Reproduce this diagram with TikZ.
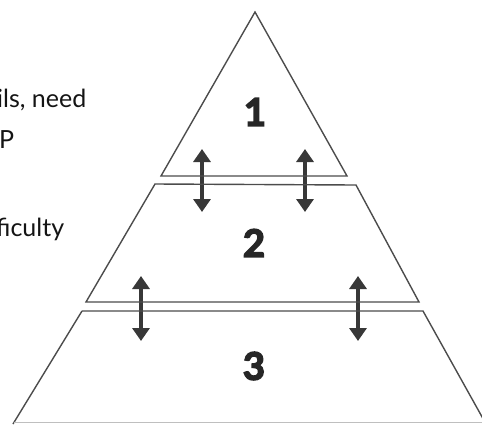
\documentclass[tikz,border=0pt]{standalone}
\usepackage{fontspec}
\setmainfont{Lato}
\newfontfamily\numfont{Lato}[BoldFeatures={FakeBold=4}]
\usetikzlibrary{arrows.meta}
\tikzset{
  tier/.style={draw=black!70, line width=1.4pt, line join=miter},
  dblarrow/.style={draw=black!78, line width=4.2pt, {Triangle[width=17pt,length=13pt]}-{Triangle[width=17pt,length=13pt]}},
  sidetext/.style={anchor=base west, inner sep=0pt, font=\fontsize{25}{29}\selectfont, text=black!92},
  num/.style={inner sep=0pt, font=\numfont\fontsize{38}{42}\selectfont\bfseries, text=black!85}
}
\begin{document}
\begin{tikzpicture}[x=1pt,y=-1pt]
\useasboundingbox (0,0) rectangle (482,424);
\clip (0,0) rectangle (482,424);
% left side text (cut off at the margin)
\node[sidetext] (t1) at (-3,107) {ils, need};
\node[sidetext] (t2) at (-1,148) {P};
\node[sidetext] (t3) at (-4,236) {ficulty};
% arrows
\coordinate (a1t) at (202,149); \coordinate (a1b) at (202,212);
\coordinate (a2t) at (305,149); \coordinate (a2b) at (305,212);
\coordinate (a3t) at (141,276); \coordinate (a3b) at (141,341);
\coordinate (a4t) at (358,276); \coordinate (a4b) at (358,341);
\draw[dblarrow] (a1t) -- (a1b);
\draw[dblarrow] (a2t) -- (a2b);
\draw[dblarrow] (a3t) -- (a3b);
\draw[dblarrow] (a4t) -- (a4b);
% pyramid tiers
\draw[tier] (255,12) -- (347,176) -- (161,176) -- cycle;
\draw[tier] (155,184) -- (356,185) -- (419,302) -- (86,302) -- cycle;
\draw[tier] (82,311) -- (423,311) -- (486,424);
\draw[tier] (82,311) -- (13,424);
\draw[draw=black!25, line width=1pt] (14,422.5) -- (482,422.5);
% tier numbers
\node[num] (n1) at (255,112) {1};
\node[num] (n2) at (254,243) {2};
\node[num] (n3) at (254,366) {3};
\end{tikzpicture}
\end{document}
